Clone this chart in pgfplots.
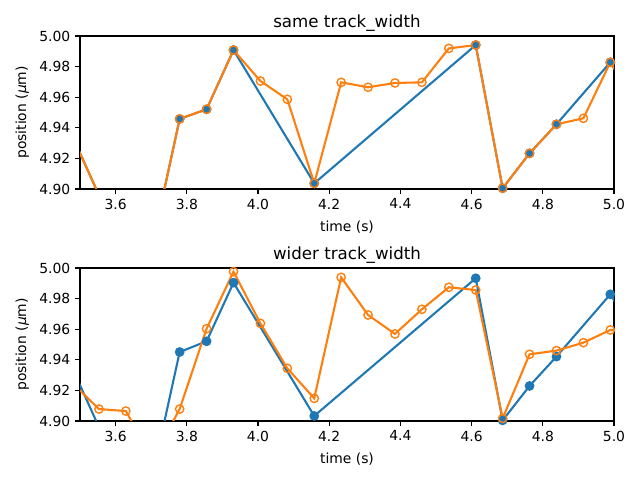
\documentclass[border=0pt]{standalone}
\usepackage{pgfplots}
\pgfplotsset{compat=1.18}
\usepackage{fontspec}
\setmainfont{DejaVu Sans}
\definecolor{mplblue}{HTML}{1F77B4}
\definecolor{mplorange}{HTML}{FF7F0E}
\pgfplotsset{
  mystyle/.style={
    scale only axis, width=384.48pt, height=110.16pt,
    xmin=3.5, xmax=5.0, ymin=4.90, ymax=5.00,
    xtick={3.6,3.8,4.0,4.2,4.4,4.6,4.8,5.0},
    ytick={4.90,4.92,4.94,4.96,4.98,5.00},
    xticklabel style={/pgf/number format/.cd,fixed,fixed zerofill,precision=1},
    yticklabel style={/pgf/number format/.cd,fixed,fixed zerofill,precision=2},
    /pgf/number format/assume math mode=true,
    tick label style={font=\fontsize{10}{12}\selectfont},
    label style={font=\fontsize{10}{12}\selectfont},
    title style={font=\fontsize{12}{14}\selectfont, yshift=-6.4pt},
    tick align=outside, major tick length=3.5pt,
    tick style={black, line width=0.8pt},
    axis line style={line width=0.8pt},
    xtick pos=bottom, ytick pos=left,
    xlabel={time (s)},
    ylabel={position ({\itshape μ}m)},
    xlabel style={yshift=-1.3pt},
    ylabel style={yshift=0.5pt},
  },
  blueline/.style={color=mplblue, line width=1.5pt, mark=*, mark size=3pt, mark options={fill=mplblue, draw=mplblue, line width=1pt}},
  orangeline/.style={color=mplorange, line width=1.5pt, mark=o, mark size=3pt, mark options={fill=none, draw=mplorange, line width=1pt}},
}
\begin{document}
\begin{tikzpicture}
\path[use as bounding box] (0,0) rectangle (460.8pt,345.6pt);
\begin{axis}[mystyle, at={(57.6pt,209.52pt)}, anchor=south west, title={same track\_width}]
\addplot[blueline] coordinates {
(3.4776,4.935) (3.5532,4.896) (3.6288,4.870) (3.7044,4.865) (3.7800,4.9458) (3.8556,4.9521) (3.9312,4.9908) (4.1580,4.9037) (4.6116,4.9941) (4.6872,4.9005) (4.7628,4.9233) (4.8384,4.9423) (4.9896,4.9828) (5.0652,4.955)
};
\addplot[orangeline] coordinates {
(3.4776,4.935) (3.5532,4.896) (3.6288,4.870) (3.7044,4.865) (3.7800,4.9458) (3.8556,4.9521) (3.9312,4.9908) (4.0068,4.9706) (4.0824,4.9586) (4.1580,4.9037) (4.2336,4.9697) (4.3092,4.9665) (4.3848,4.9693) (4.4604,4.9697) (4.5360,4.9919) (4.6116,4.9941) (4.6872,4.9005) (4.7628,4.9233) (4.8384,4.9423) (4.9140,4.9462) (4.9896,4.9828) (5.0652,4.955)
};
\end{axis}
\begin{axis}[mystyle, at={(57.6pt,42.48pt)}, anchor=south west, title={wider track\_width}]
\addplot[blueline] coordinates {
(3.4776,4.935) (3.5532,4.896) (3.6288,4.870) (3.7044,4.865) (3.7800,4.9451) (3.8556,4.9521) (3.9312,4.9904) (4.1580,4.9033) (4.6116,4.9933) (4.6872,4.9004) (4.7628,4.9229) (4.8384,4.9421) (4.9896,4.9828) (5.0652,4.955)
};
\addplot[orangeline] coordinates {
(3.4776,4.925) (3.5532,4.9078) (3.6288,4.9065) (3.7044,4.875) (3.7800,4.9078) (3.8556,4.9603) (3.9312,4.9976) (4.0068,4.9638) (4.0824,4.9344) (4.1580,4.9148) (4.2336,4.9939) (4.3092,4.9693) (4.3848,4.9569) (4.4604,4.9730) (4.5360,4.9874) (4.6116,4.9856) (4.6872,4.9017) (4.7628,4.9436) (4.8384,4.9460) (4.9140,4.9512) (4.9896,4.9595) (5.0652,4.958)
};
\end{axis}
\end{tikzpicture}
\end{document}
